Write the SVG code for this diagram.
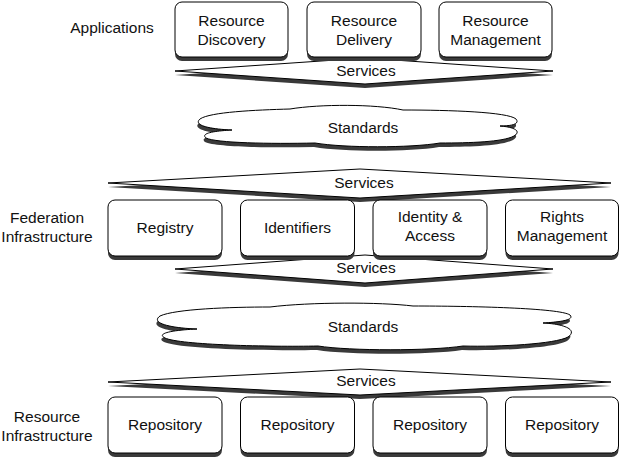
<svg xmlns="http://www.w3.org/2000/svg" width="620" height="461" viewBox="0 0 620 461">
<style>
.bx{fill:#fff;stroke:#000;stroke-width:1}
.sh{fill:#3a3a3a;stroke:none}
.sv{fill:#fff;stroke:#000;stroke-width:1}
.t{font-family:"Liberation Sans",Arial,sans-serif;font-size:15.5px;fill:#111;text-anchor:middle}
</style>
<rect width="620" height="461" fill="#fff"/>
<g id="labels">
<text class="t" x="112" y="33">Applications</text>
<text class="t" x="47" y="223">Federation</text>
<text class="t" x="47" y="242">Infrastructure</text>
<text class="t" x="47" y="422">Resource</text>
<text class="t" x="47" y="441">Infrastructure</text>
</g>
<g id="connectors">
<g id="services-apps">
<polygon class="sh" points="175,75 365,62 553,75 365,88"/>
<polygon class="sv" points="175,71 365,58 553,71 365,84"/>
<text class="t" x="366" y="76">Services</text>
</g>
<g id="services-fed-top">
<polygon class="sh" points="108,187 360,173 611,187 360,202"/>
<polygon class="sv" points="108,183 360,169 611,183 360,198"/>
<text class="t" x="364" y="188">Services</text>
</g>
<g id="services-fed-bottom">
<polygon class="sh" points="175,273 365,259 553,273 365,287"/>
<polygon class="sv" points="175,269 365,255 553,269 365,283"/>
<text class="t" x="366" y="273">Services</text>
</g>
<g id="services-res">
<polygon class="sh" points="108,386 360,373 611,386 360,399"/>
<polygon class="sv" points="108,382 360,369 611,382 360,395"/>
<text class="t" x="366" y="386">Services</text>
</g>
</g>
<g id="standards-1">
<path class="sh" transform="translate(-1,4)" d="M 232,130 C 208,129 193,125 200,119 C 210,112 255,110 290,109 C 320,104 375,104 403,110 C 450,110 508,112 516,119 C 520,124 512,126 500,126 C 514,127 522,131 514,136 C 503,142 470,143 440,143 C 410,148 345,148 315,143 C 270,144 216,143 206,138 C 200,133 215,131 232,130 Z"/>
<path class="bx" d="M 232,130 C 208,129 193,125 200,119 C 210,112 255,110 290,109 C 320,104 375,104 403,110 C 450,110 508,112 516,119 C 520,124 512,126 500,126 C 514,127 522,131 514,136 C 503,142 470,143 440,143 C 410,148 345,148 315,143 C 270,144 216,143 206,138 C 200,133 215,131 232,130 Z"/>
<text class="t" x="363" y="133">Standards</text>
</g>
<g id="standards-2">
<path class="sh" transform="translate(-1,4)" d="M 197,329 C 170,328 150,323 160,316 C 175,309 230,307 270,307 C 310,302 380,302 413,306 C 470,306 560,308 570,315 C 575,320 560,322 543,323 C 565,324 578,330 568,337 C 555,344 500,347 463,346 C 430,351 350,351 318,346 C 270,347 180,345 165,338 C 155,333 175,330 197,329 Z"/>
<path class="bx" d="M 197,329 C 170,328 150,323 160,316 C 175,309 230,307 270,307 C 310,302 380,302 413,306 C 470,306 560,308 570,315 C 575,320 560,322 543,323 C 565,324 578,330 568,337 C 555,344 500,347 463,346 C 430,351 350,351 318,346 C 270,347 180,345 165,338 C 155,333 175,330 197,329 Z"/>
<text class="t" x="363" y="332">Standards</text>
</g>
<g id="resource-discovery">
<rect class="sh" x="175" y="6" width="113" height="55" rx="7"/>
<rect class="bx" x="175" y="2" width="113" height="55" rx="7"/>
<text class="t" x="231.5" y="26">Resource</text>
<text class="t" x="231.5" y="45">Discovery</text>
</g>
<g id="resource-delivery">
<rect class="sh" x="307" y="6" width="114" height="55" rx="7"/>
<rect class="bx" x="307" y="2" width="114" height="55" rx="7"/>
<text class="t" x="364" y="26">Resource</text>
<text class="t" x="364" y="45">Delivery</text>
</g>
<g id="resource-management">
<rect class="sh" x="439" y="6" width="113" height="55" rx="7"/>
<rect class="bx" x="439" y="2" width="113" height="55" rx="7"/>
<text class="t" x="495.5" y="26">Resource</text>
<text class="t" x="495.5" y="45">Management</text>
</g>
<g id="registry">
<rect class="sh" x="108" y="204" width="114" height="56" rx="7"/>
<rect class="bx" x="108" y="200" width="114" height="56" rx="7"/>
<text class="t" x="165" y="233">Registry</text>
</g>
<g id="identifiers">
<rect class="sh" x="240.5" y="204" width="114" height="56" rx="7"/>
<rect class="bx" x="240.5" y="200" width="114" height="56" rx="7"/>
<text class="t" x="297.5" y="233">Identifiers</text>
</g>
<g id="identity-access">
<rect class="sh" x="373" y="204" width="114" height="56" rx="7"/>
<rect class="bx" x="373" y="200" width="114" height="56" rx="7"/>
<text class="t" x="430" y="222">Identity &amp;</text>
<text class="t" x="430" y="241">Access</text>
</g>
<g id="rights-management">
<rect class="sh" x="505.5" y="204" width="113" height="56" rx="7"/>
<rect class="bx" x="505.5" y="200" width="113" height="56" rx="7"/>
<text class="t" x="562" y="222">Rights</text>
<text class="t" x="562" y="241">Management</text>
</g>
<g id="repository-1">
<rect class="sh" x="108" y="401" width="114" height="56" rx="7"/>
<rect class="bx" x="108" y="397" width="114" height="56" rx="7"/>
<text class="t" x="165" y="430">Repository</text>
</g>
<g id="repository-2">
<rect class="sh" x="240.5" y="401" width="114" height="56" rx="7"/>
<rect class="bx" x="240.5" y="397" width="114" height="56" rx="7"/>
<text class="t" x="297.5" y="430">Repository</text>
</g>
<g id="repository-3">
<rect class="sh" x="373" y="401" width="114" height="56" rx="7"/>
<rect class="bx" x="373" y="397" width="114" height="56" rx="7"/>
<text class="t" x="430" y="430">Repository</text>
</g>
<g id="repository-4">
<rect class="sh" x="505.5" y="401" width="113" height="56" rx="7"/>
<rect class="bx" x="505.5" y="397" width="113" height="56" rx="7"/>
<text class="t" x="562" y="430">Repository</text>
</g>
</svg>
